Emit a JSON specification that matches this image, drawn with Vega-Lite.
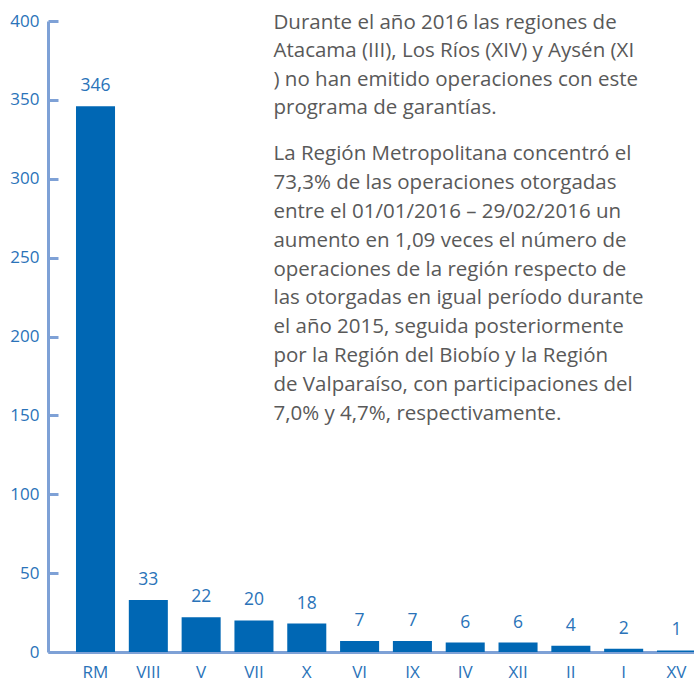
{
  "$schema": "https://vega.github.io/schema/vega-lite/v6.json",
  "width": 676,
  "height": 631,
  "autosize": "none",
  "padding": {"left": 48, "top": 21, "right": 0, "bottom": 30},
  "config": {"view": {"stroke": null}, "font": "Open Sans"},
  "data": {"values": [
    {"region": "RM", "value": 346},
    {"region": "VIII", "value": 33},
    {"region": "V", "value": 22},
    {"region": "VII", "value": 20},
    {"region": "X", "value": 18},
    {"region": "VI", "value": 7},
    {"region": "IX", "value": 7},
    {"region": "IV", "value": 6},
    {"region": "XII", "value": 6},
    {"region": "II", "value": 4},
    {"region": "I", "value": 2},
    {"region": "XV", "value": 1}
  ]},
  "layer": [
    {
      "mark": {"type": "bar", "color": "#0067b4"},
      "encoding": {
        "x": {"field": "region", "type": "nominal",
          "scale": {"domain": ["RM","VIII","V","VII","X","VI","IX","IV","XII","II","I","XV"], "paddingInner": 0.261, "paddingOuter": 0.53},
          "axis": {"title": null, "labelAngle": 0, "ticks": false, "domainColor": "#7ea1d6", "domainWidth": 3, "labelPadding": 12, "labelFontSize": 17, "labelColor": "#2a73b9"}},
        "y": {"field": "value", "type": "quantitative",
          "scale": {"domain": [0, 400]},
          "axis": {"title": null, "grid": false, "values": [0,50,100,150,200,250,300,350,400], "domainColor": "#7ea1d6", "domainWidth": 3, "tickColor": "#7ea1d6", "tickWidth": 3, "tickSize": -10, "labelPadding": 19, "labelFontSize": 17, "labelColor": "#2a73b9"}}
      }
    },
    {
      "mark": {"type": "text", "baseline": "alphabetic", "dy": -15, "fontSize": 17.5, "color": "#2a73b9"},
      "encoding": {
        "x": {"field": "region", "type": "nominal"},
        "y": {"field": "value", "type": "quantitative"},
        "text": {"field": "value", "type": "quantitative"}
      }
    },
    {
      "data": {"values": [{"note": "p1"}]},
      "mark": {"type": "text", "align": "left", "baseline": "alphabetic", "fontSize": 20.5, "fontWeight": "normal", "lineHeight": 28.5, "color": "#595959"},
      "encoding": {
        "x": {"datum": "VII", "bandPosition": 1},
        "y": {"datum": 395.2},
        "text": {"value": ["Durante el año 2016 las regiones de", "Atacama (III), Los Ríos (XIV) y Aysén (XI", ") no han emitido operaciones con este", "programa de garantías."]}
      }
    },
    {
      "data": {"values": [{"note": "p2"}]},
      "mark": {"type": "text", "align": "left", "baseline": "alphabetic", "fontSize": 20.5, "fontWeight": "normal", "lineHeight": 28.9, "color": "#595959"},
      "encoding": {
        "x": {"datum": "VII", "bandPosition": 1},
        "y": {"datum": 311.9},
        "text": {"value": ["La Región Metropolitana concentró el", "73,3% de las operaciones otorgadas", "entre el 01/01/2016 – 29/02/2016 un", "aumento en 1,09 veces el número de", "operaciones de la región respecto de", "las otorgadas en igual período durante", "el año 2015, seguida posteriormente", "por la Región del Biobío y la Región", "de Valparaíso, con participaciones del", "7,0% y 4,7%, respectivamente."]}
      }
    }
  ]
}
